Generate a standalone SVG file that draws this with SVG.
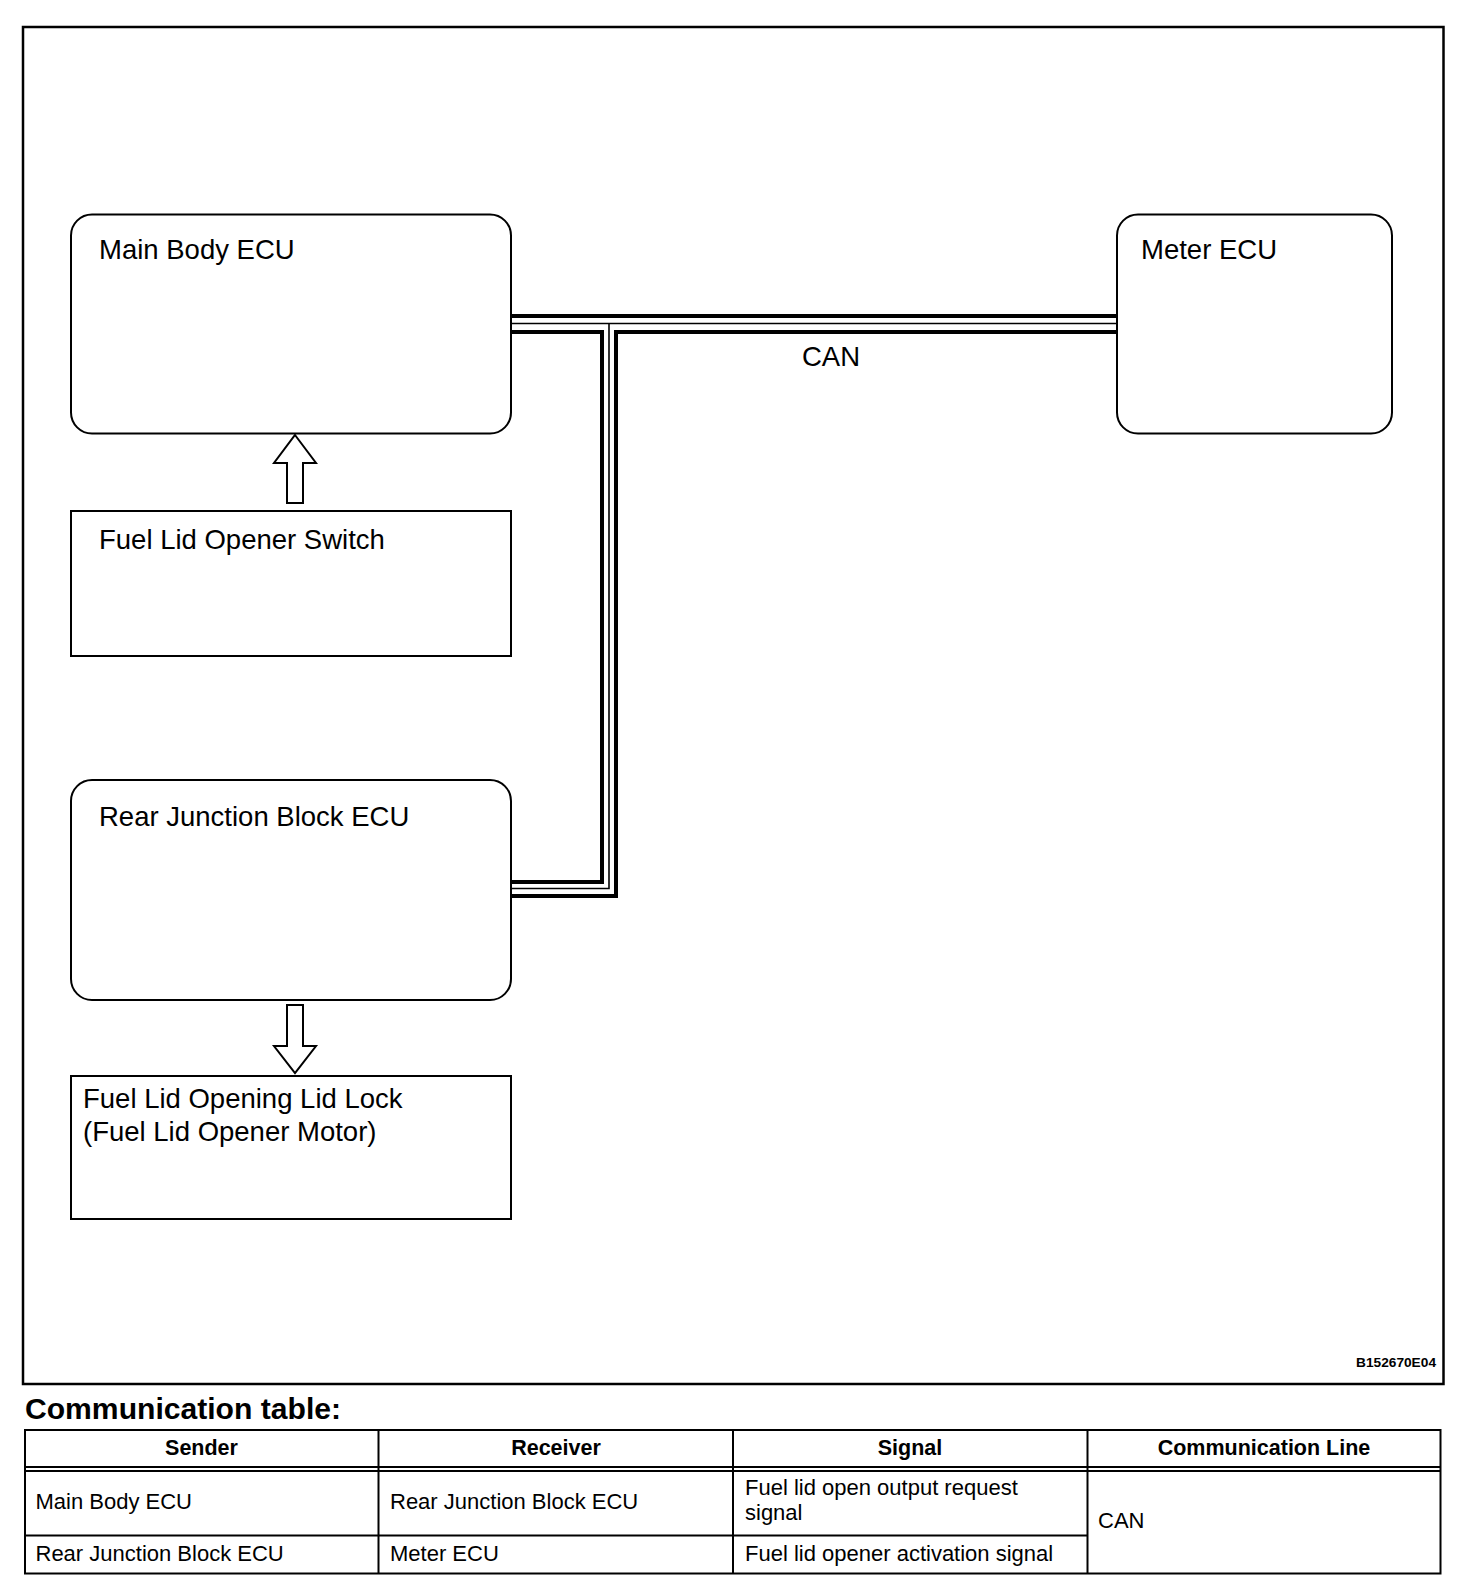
<svg xmlns="http://www.w3.org/2000/svg" width="1472" height="1592" viewBox="0 0 1472 1592">
<style>
text{font-family:"Liberation Sans",Arial,Helvetica,sans-serif;fill:#000}
.lbl{font-size:27.5px}
.cell{font-size:22px}
.hdr{font-size:21.5px;font-weight:bold;text-anchor:middle}
.box{fill:#fff;stroke:#000;stroke-width:2}
.arr{fill:#fff;stroke:#000;stroke-width:2;stroke-linejoin:miter}
.busB{fill:none;stroke:#000}
.busW{fill:none;stroke:#fff}
.busT{fill:none;stroke:#000;stroke-width:1.6}
.tl{stroke:#000;stroke-width:2;fill:none}
</style>
<rect x="0" y="0" width="1472" height="1592" fill="#fff"/>
<rect x="23" y="27" width="1420.5" height="1357" fill="none" stroke="#000" stroke-width="2.5"/>

<g id="connectors">
  <path class="busB" d="M511,324 H1117" stroke-width="20"/>
  <path class="busB" d="M511,889 H609 V324" stroke-width="18"/>
  <path class="busW" d="M511,324 H1117" stroke-width="12"/>
  <path class="busW" d="M511,889 H609 V324" stroke-width="10"/>
  <path class="busT" d="M511,323.5 H1117"/>
  <path class="busT" d="M511,888.5 H609 V323.5"/>
  <text class="lbl" x="802" y="366">CAN</text>
  <polygon class="arr" points="295,435 316,463 303,463 303,503 287,503 287,463 274,463"/>
  <polygon class="arr" points="287,1005 303,1005 303,1046 316,1046 295,1073 274,1046 287,1046"/>
</g>

<g id="main-body-ecu">
  <rect class="box" x="71" y="214.5" width="440" height="219" rx="21" ry="21"/>
  <text class="lbl" x="99" y="259">Main Body ECU</text>
</g>
<g id="meter-ecu">
  <rect class="box" x="1117" y="214.5" width="275" height="219" rx="21" ry="21"/>
  <text class="lbl" x="1141" y="259">Meter ECU</text>
</g>
<g id="fuel-lid-opener-switch">
  <rect class="box" x="71" y="511" width="440" height="145"/>
  <text class="lbl" x="99" y="549">Fuel Lid Opener Switch</text>
</g>
<g id="rear-junction-block-ecu">
  <rect class="box" x="71" y="780" width="440" height="220" rx="21" ry="21"/>
  <text class="lbl" x="99" y="826">Rear Junction Block ECU</text>
</g>
<g id="fuel-lid-opening-lid-lock">
  <rect class="box" x="71" y="1076" width="440" height="143"/>
  <text class="lbl" x="83" y="1108">Fuel Lid Opening Lid Lock</text>
  <text class="lbl" x="83" y="1141">(Fuel Lid Opener Motor)</text>
</g>

<text x="1436" y="1367" font-size="12" font-weight="bold" text-anchor="end" textLength="80" lengthAdjust="spacingAndGlyphs">B152670E04</text>

<g id="communication-table">
  <text x="25" y="1419" font-size="29" font-weight="bold" textLength="316" lengthAdjust="spacingAndGlyphs">Communication table:</text>
  <rect class="tl" x="25" y="1430" width="1415.5" height="143.5"/>
  <line class="tl" x1="25" y1="1467" x2="1440.5" y2="1467"/>
  <line class="tl" x1="25" y1="1471" x2="1440.5" y2="1471"/>
  <line class="tl" x1="25" y1="1535.5" x2="1087.5" y2="1535.5"/>
  <line class="tl" x1="378.5" y1="1430" x2="378.5" y2="1573.5"/>
  <line class="tl" x1="733" y1="1430" x2="733" y2="1573.5"/>
  <line class="tl" x1="1087.5" y1="1430" x2="1087.5" y2="1573.5"/>
  <text class="hdr" x="201.5" y="1455">Sender</text>
  <text class="hdr" x="556" y="1455">Receiver</text>
  <text class="hdr" x="910" y="1455">Signal</text>
  <text class="hdr" x="1264" y="1455">Communication Line</text>
  <text class="cell" x="35.5" y="1509">Main Body ECU</text>
  <text class="cell" x="390" y="1509">Rear Junction Block ECU</text>
  <text class="cell" x="745" y="1495">Fuel lid open output request</text>
  <text class="cell" x="745" y="1520">signal</text>
  <text class="cell" x="1098" y="1528">CAN</text>
  <text class="cell" x="35.5" y="1561">Rear Junction Block ECU</text>
  <text class="cell" x="390" y="1561">Meter ECU</text>
  <text class="cell" x="745" y="1561">Fuel lid opener activation signal</text>
</g>
</svg>
